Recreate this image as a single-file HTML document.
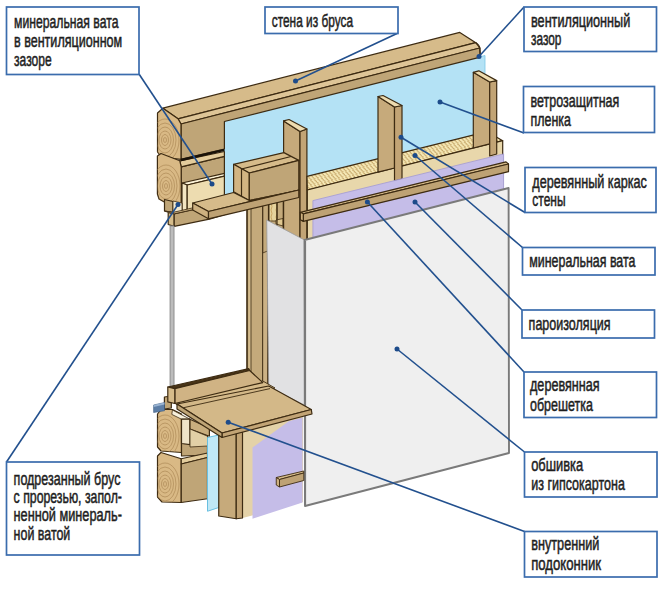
<!DOCTYPE html>
<html><head><meta charset="utf-8">
<style>
html,body{margin:0;padding:0;background:#fff;width:660px;height:605px;overflow:hidden}
svg{display:block}
.lb{fill:#fff;stroke:#3a6cad;stroke-width:1.7}
.tx{font-family:"Liberation Sans",sans-serif;font-size:17.5px;fill:#1e1e1e;stroke:#1e1e1e;stroke-width:0.5}
.ld{stroke:#22508e;stroke-width:1.6;fill:none}
.dt{fill:#1d4b8a}
.ol{stroke:#3a2810;stroke-width:1.2;stroke-linejoin:round}
</style></head>
<body>
<svg width="660" height="605" viewBox="0 0 660 605">
<!-- ILLUSTRATION -->
<g id="art">
<defs>
<pattern id="wool" patternUnits="userSpaceOnUse" width="3.6" height="5" patternTransform="rotate(-14) skewX(25)">
<rect width="3.6" height="5" fill="#f6e9b6"/>
<path d="M0.4 0 Q1.6 1.4 1.2 2.5 Q0.9 3.8 2.2 5" stroke="#c9ab6e" stroke-width="1.3" fill="none"/>
</pattern>
<pattern id="woolf" patternUnits="userSpaceOnUse" width="5" height="7">
<rect width="5" height="7" fill="#e6d39c"/>
<path d="M1 0 Q3 3.5 1 7" stroke="#caa664" stroke-width="1" fill="none"/>
</pattern>
<clipPath id="e1"><polygon points="157.5,113 162.9,108.2 178,118.8 181,124 181,159.3 161,157 157.5,152"/></clipPath>
<clipPath id="e2"><polygon points="157.4,156 161,153.5 179.8,160.8 181.2,166.8 181.2,205 166,203 159,199 157.4,194"/></clipPath>
<clipPath id="e3"><polygon points="157.5,414 161,409.5 172.4,409.5 181.5,414 181.5,452.5 161,451 157.5,447"/></clipPath>
<clipPath id="e4"><polygon points="157.5,456 161,452.5 181.25,458.75 181.25,502.5 162,502 157.5,497"/></clipPath>
</defs>
<g stroke="#3d2b12" stroke-width="1.2" stroke-linejoin="round">
<!-- blue film -->
<polygon points="224.4,121 485,55.5 485,150 224.4,205" fill="#b4e2f5" stroke="#7cc6e6" stroke-width="0.8"/>

<!-- top beam -->
<polygon points="162.9,108.2 459.8,32.4 475.8,42.7 178,118.8" fill="#d6bb8a"/>
<polygon points="178,118.8 475.8,42.7 479.8,48 181,124" fill="#dec597"/>
<polygon points="181,124 479.8,48 480.3,57.1 224.4,121.5 224.4,149 181,159.3" fill="#bfa577"/>
<path d="M475.8,42.7 Q479.5,45 479.8,48 L480.3,57.1" fill="none"/>
<polygon points="157.5,113 162.9,108.2 178,118.8 181,124 181,159.3 161,157 157.5,152" fill="#d9b985"/>
<g fill="none" stroke="#ad8a58" stroke-width="0.7" clip-path="url(#e1)"><ellipse cx="165" cy="140" rx="1.5" ry="2.5"/><ellipse cx="165" cy="140" rx="3.5" ry="5.5"/><ellipse cx="165" cy="140" rx="6" ry="9"/><ellipse cx="165" cy="140" rx="8.5" ry="13"/><ellipse cx="165" cy="140" rx="11" ry="17"/><ellipse cx="165" cy="140" rx="14" ry="21"/></g>

<!-- second log -->
<polygon points="181.2,166.8 224.4,156.4 224.4,212 181.2,212" fill="#bfa577"/>
<polygon points="179.8,160.8 224.4,151.5 224.4,156.4 181.2,166.8" fill="#e3cc9c"/>
<polygon points="157.4,156 161,153.5 179.8,160.8 181.2,166.8 181.2,205 166,203 159,199 157.4,194" fill="#d9b985"/>
<g fill="none" stroke="#ad8a58" stroke-width="0.7" clip-path="url(#e2)"><ellipse cx="166" cy="186" rx="1.5" ry="2.5"/><ellipse cx="166" cy="186" rx="3.5" ry="5.5"/><ellipse cx="166" cy="186" rx="6" ry="9"/><ellipse cx="166" cy="186" rx="8.5" ry="13"/><ellipse cx="166" cy="186" rx="11" ry="17"/><ellipse cx="166" cy="186" rx="14" ry="21"/></g>

<line x1="181" y1="160" x2="224.4" y2="149.8" stroke="#1a1208" stroke-width="2.4"/>
<!-- vent gap wool block -->
<polygon points="182,183 224.4,173.3 224.4,176.2 187.2,185" fill="#fcf3d8"/>
<polygon points="182,183 187.2,185 187.2,212 182,210" fill="#f3e6c2"/>
<polygon points="187.2,185 224.4,176.2 224.4,204 187.2,212" fill="#eddcb0"/>

<!-- small block + window head -->
<polygon points="164.5,199.5 173,201.5 173,212.4 164.5,211" fill="#bfa577"/>
<polygon points="173,201 182,203 182,212 173,212.4" fill="#f2e8cf" stroke-width="0.8"/>
<polygon points="168.2,212.4 174.2,213.8 174.2,226.4 168.2,224.5" fill="#d6bd8c"/>
<polygon points="174.2,213.8 209.4,206 240,199 240,210 209.4,219.1 174.2,226.4" fill="#bfa577"/>
<polygon points="164.5,211 173,212.4 209.4,204 209.4,206 174.2,213.8 168.2,212.4" fill="#d6bb8a" stroke-width="0.8"/>

<!-- behind gypsum side top: studs area -->
<polygon points="266.7,197 306.9,185 306.9,242 266.7,226" fill="#c4aa7b"/>
<polygon points="268.3,204 277,202 277,221 268.3,221" fill="url(#woolf)" stroke-width="0.8"/>
<polygon points="276,220 283,218.5 283,226 276,224" fill="#e0c890" stroke-width="0.8"/>
<line x1="283.3" y1="195" x2="283.3" y2="232"/>
<line x1="277" y1="202" x2="277" y2="228"/>

<!-- stud 1 -->
<polygon points="283.6,120.9 300,131.5 300,242 283.6,234" fill="#c6aa7b"/>
<polygon points="300,131.5 306.9,129 306.9,240 300,242" fill="#c2a475"/>
<polygon points="283.6,120.9 289,119.5 306.9,129 300,131.5" fill="#eedcb0"/>

<!-- jamb (right side of window) -->
<polygon points="247,199 268.7,193 268.7,390 247,392" fill="#c4aa7b" stroke-width="1.6"/>
<polygon points="248.5,199 251,198.5 251,372 248.5,372" fill="#d3bb8e" stroke="none"/>
<line x1="251" y1="199" x2="251" y2="372" stroke-width="0.8"/>
<line x1="262.7" y1="196" x2="262.7" y2="383"/>
<polygon points="262.7,253 267.5,251 267.5,385 262.7,383" fill="#ccb285" stroke-width="0.8"/>

<!-- header block -->
<polygon points="233.6,164.3 283.9,152.6 298.8,160.4 249.3,173" fill="#d6bb8a"/>
<line x1="241.5" y1="169" x2="291" y2="156.5"/>
<polygon points="233.6,164.3 249.3,173 249.3,200.5 233.6,191.8" fill="#d2b482"/>
<line x1="241.5" y1="169" x2="241.5" y2="196.5"/>
<polygon points="249.3,173 298.8,160.4 298.8,190.3 249.3,200.5" fill="#bfa577"/>

<!-- plank -->
<polygon points="192.7,203 233.6,192.5 249.3,200.5 298.8,190.3 298.8,190 208.5,211.5" fill="#d6bb8a"/>
<polygon points="192.7,203 208.5,211.5 208.5,218.8 192.7,210" fill="#cdb07f"/>
<polygon points="208.5,211.5 298.8,190 298.8,197.5 208.5,218.8" fill="#bea274"/>

<!-- main wool -->
<polygon points="307,176.4 487,131.6 502.7,140.7 307.3,190" fill="url(#wool)"/>
<polygon points="307.3,190 502.7,140.7 502.7,190 307.3,245" fill="#e8d7ab"/>

<!-- stud 2 -->
<polygon points="378,96.5 394.5,107 394.5,168 378,172.2" fill="#c6aa7b"/>
<polygon points="394.5,107 402,105.5 402,179 394.5,181" fill="#c2a475"/>
<polygon points="378,96.5 383,95.5 402,105.5 394.5,107" fill="#eedcb0"/>

<!-- stud 3 -->
<polygon points="473.3,72.3 489.7,82 489.7,143.8 473.3,148" fill="#c6aa7b"/>
<polygon points="489.7,82 496.7,80.6 496.7,154 489.7,156" fill="#c2a475"/>
<polygon points="473.3,72.3 478.8,70.8 496.7,80.6 489.7,82" fill="#eedcb0"/>

<!-- purple -->
<polygon points="312.9,200.6 503.6,153.9 503.6,200 312.9,245" fill="#c5bde8" stroke="#a39ad2" stroke-width="0.8"/>

<!-- batten -->
<polygon points="300.3,212.3 506,161.9 508.5,164 303.3,213.8" fill="#d6bb8a"/>
<polygon points="303.3,213.8 508.5,164 508.5,171.7 303.3,221.4" fill="#bea274"/>
<polygon points="300.3,212.3 303.3,213.8 303.3,221.4 300.3,219.8" fill="#cdb07f"/>

<!-- gypsum -->
<polygon points="266.7,220 304.5,240 304.5,405 268.7,387" fill="#e1e1e3" stroke="#9a9a9a" stroke-width="0.8"/>
<polygon points="304.5,240 508.6,188 509,453 305,506" fill="#efefef" stroke="#7a7a7a" stroke-width="1.9"/>
<line x1="305.2" y1="241" x2="305.2" y2="505" stroke="#7a7a7a" stroke-width="1.8"/>

<!-- window glass -->
<rect x="170.1" y="226" width="3.9" height="162" fill="#bcbcbc" stroke="#8e8e8e" stroke-width="1"/>

<!-- sill back strip -->
<polygon points="164.4,397 171.3,396 171.3,408 164.4,409" fill="#bfa577"/>
<polygon points="171,401 262.8,381 275,388 182.6,408" fill="#d6bb8a" stroke-width="0.9"/>

<!-- window bottom rail -->
<polygon points="167.8,387 248.8,368.7 249.7,370.5 174.8,388.7" fill="#4a3518"/>
<polygon points="174.8,388.7 249.7,370.5 262.8,382.6 174.8,403.5" fill="#d0b384"/>
<polygon points="167.8,387 174.8,388.7 174.8,403.5 167.8,401.8" fill="#d6bb8a"/>

<!-- lower logs -->
<polygon points="157.5,414 161,409.5 172.4,409.5 181.5,414 181.5,452.5 161,451 157.5,447" fill="#d9b985"/>
<polygon points="181.5,419 207.5,430 207.5,455 181.5,456" fill="#bfa577"/>
<polygon points="172.4,410 190,419.2 181.5,419.2 171.8,414.4" fill="#f7f0dc" stroke-width="0.8"/>
<polygon points="181.5,419.2 190,419.2 190,444.7 181.5,443.5" fill="#efe4c8"/>
<polygon points="190,419.2 209.4,428 209.4,436.2 190,429" fill="#c9ae7e"/>
<polygon points="190,429 207.5,436.2 207.5,446 190,447" fill="#e2d0a6" stroke-width="0.8"/>
<polygon points="157.5,456 161,452.5 181.25,458.75 181.25,502.5 162,502 157.5,497" fill="#d9b985"/>
<polygon points="181.25,458.75 207.5,453 207.5,457.5 181.25,464" fill="#e3cc9c"/>
<polygon points="181.25,464 207.5,457.5 207.5,498.75 181.25,502.5" fill="#bfa577"/>
<g fill="none" stroke="#ad8a58" stroke-width="0.7" clip-path="url(#e3)"><ellipse cx="165" cy="436" rx="1.5" ry="2.5"/><ellipse cx="165" cy="436" rx="3.5" ry="5.5"/><ellipse cx="165" cy="436" rx="6" ry="9"/><ellipse cx="165" cy="436" rx="8.5" ry="13"/><ellipse cx="165" cy="436" rx="11" ry="17"/><ellipse cx="165" cy="436" rx="14" ry="21"/></g><g fill="none" stroke="#ad8a58" stroke-width="0.7" clip-path="url(#e4)"><ellipse cx="165" cy="484" rx="1.5" ry="2.5"/><ellipse cx="165" cy="484" rx="3.5" ry="5.5"/><ellipse cx="165" cy="484" rx="6" ry="9"/><ellipse cx="165" cy="484" rx="8.5" ry="13"/><ellipse cx="165" cy="484" rx="11" ry="17"/><ellipse cx="165" cy="484" rx="14" ry="21"/></g>
<polygon points="153.6,405 164.5,402.5 164.5,410.8 153.6,412.5" fill="#5d7ea6" stroke="#3e5c82" stroke-width="0.6"/><polygon points="153.6,405 164.5,402.5 164.5,404.5 153.6,407" fill="#9ab4d2" stroke="none"/>

<!-- blue film piece -->
<polygon points="207.5,437.5 218.75,435 218.75,507.5 207.5,511.25" fill="#c0e8f6" stroke="#69bfe0" stroke-width="1"/>

<!-- stud below sill -->
<polygon points="242.5,430 303,416 303,502 242.5,518" fill="#e4d2a8" stroke="none"/>
<polygon points="218.75,435 236.25,431 236.25,518.75 218.75,516" fill="#c6aa7b"/>
<polygon points="236.25,431 242.5,430 242.5,518 236.25,518.75" fill="#c2a475"/>
<polygon points="252.5,447.5 288.75,421.25 302.5,417.5 302.5,502.5 252.5,518.75" fill="#c5bde8" stroke="none"/>
<polygon points="276.25,477.5 303.75,471 303.75,473 279.5,479.5" fill="#d6bb8a" stroke-width="0.9"/>
<polygon points="276.25,477.5 279.5,479.5 279.5,487 276.25,485" fill="#cdb07f" stroke-width="0.9"/>
<polygon points="279.5,479.5 303.75,473 303.75,480.5 279.5,487" fill="#bea274" stroke-width="0.9"/>

<!-- sill -->
<polygon points="177,404 268.7,386 311.3,409.5 222,433" fill="#d3b888"/>
<polygon points="222,433 311.3,409.5 312,414 222,437.5" fill="#c2a475"/>
<polygon points="177,404 222,433 222,437.5 177,409" fill="#bfa577"/>
<line x1="183.6" y1="407.7" x2="270" y2="388.6" stroke-width="0.9"/>
</g>
</g>

<!-- LEADER LINES -->
<g id="leaders">
<line class="ld" x1="139" y1="74" x2="212" y2="184"/><circle class="dt" cx="212" cy="184" r="2.5"/>
<line class="ld" x1="397" y1="33.5" x2="295.5" y2="81"/><circle class="dt" cx="295.5" cy="81" r="2.5"/>
<line class="ld" x1="524" y1="7" x2="479" y2="56.5"/><circle class="dt" cx="479" cy="56.5" r="2.5"/>
<line class="ld" x1="524" y1="133" x2="440" y2="102"/><circle class="dt" cx="440" cy="102" r="2.5"/>
<line class="ld" x1="525" y1="212.5" x2="401" y2="137.3"/><circle class="dt" cx="401" cy="137.3" r="2.5"/>
<line class="ld" x1="522.5" y1="247.5" x2="415" y2="155.5"/><circle class="dt" cx="415" cy="155.5" r="2.5"/>
<line class="ld" x1="522" y1="310" x2="415" y2="202"/><circle class="dt" cx="415" cy="202" r="2.5"/>
<line class="ld" x1="524" y1="372" x2="367.4" y2="202"/><circle class="dt" cx="367.4" cy="202" r="2.5"/>
<line class="ld" x1="524.5" y1="452" x2="397" y2="349"/><circle class="dt" cx="397" cy="349" r="2.5"/>
<line class="ld" x1="524.5" y1="531.5" x2="228.2" y2="422.2"/><circle class="dt" cx="228.2" cy="422.2" r="2.5"/>
<line class="ld" x1="6.5" y1="462" x2="178" y2="204.5"/><circle class="dt" cx="178" cy="204.5" r="2.5"/>
</g>

<!-- LABELS -->
<g id="labels">
<rect class="lb" x="6.5" y="7" width="132.5" height="67.5"/>
<text class="tx" x="14" y="27.7" textLength="104.5" lengthAdjust="spacingAndGlyphs">минеральная вата</text>
<text class="tx" x="14" y="47" textLength="108.2" lengthAdjust="spacingAndGlyphs">в вентиляционном</text>
<text class="tx" x="14" y="65.9" textLength="37.7" lengthAdjust="spacingAndGlyphs">зазоре</text>

<rect class="lb" x="265" y="7" width="133" height="26.5"/>
<text class="tx" x="271.8" y="26.9" textLength="81.2" lengthAdjust="spacingAndGlyphs">стена из бруса</text>

<rect class="lb" x="524" y="7" width="132.5" height="44.5"/>
<text class="tx" x="531" y="26.6" textLength="99.3" lengthAdjust="spacingAndGlyphs">вентиляционный</text>
<text class="tx" x="531" y="44.6" textLength="30.4" lengthAdjust="spacingAndGlyphs">зазор</text>

<rect class="lb" x="523.5" y="86.5" width="131" height="46"/>
<text class="tx" x="530.6" y="106.5" textLength="88.7" lengthAdjust="spacingAndGlyphs">ветрозащитная</text>
<text class="tx" x="530.6" y="125.6" textLength="40.4" lengthAdjust="spacingAndGlyphs">пленка</text>

<rect class="lb" x="525" y="167.5" width="131" height="45"/>
<text class="tx" x="532.3" y="187.6" textLength="114.6" lengthAdjust="spacingAndGlyphs">деревянный каркас</text>
<text class="tx" x="532.3" y="205.6" textLength="33.3" lengthAdjust="spacingAndGlyphs">стены</text>

<rect class="lb" x="522.5" y="247.5" width="132.5" height="27.5"/>
<text class="tx" x="529.3" y="266.8" textLength="106.1" lengthAdjust="spacingAndGlyphs">минеральная вата</text>

<rect class="lb" x="522" y="310" width="132.5" height="28"/>
<text class="tx" x="528.6" y="329.6" textLength="82" lengthAdjust="spacingAndGlyphs">пароизоляция</text>

<rect class="lb" x="524" y="372" width="132.5" height="45.5"/>
<text class="tx" x="530" y="391.4" textLength="69.6" lengthAdjust="spacingAndGlyphs">деревянная</text>
<text class="tx" x="530" y="410.7" textLength="63" lengthAdjust="spacingAndGlyphs">обрешетка</text>

<rect class="lb" x="524.5" y="452" width="132.5" height="45"/>
<text class="tx" x="531.2" y="470.6" textLength="52" lengthAdjust="spacingAndGlyphs">обшивка</text>
<text class="tx" x="531.2" y="490.1" textLength="93.7" lengthAdjust="spacingAndGlyphs">из гипсокартона</text>

<rect class="lb" x="524.5" y="531.5" width="132.5" height="45.5"/>
<text class="tx" x="531.2" y="550.2" textLength="68.2" lengthAdjust="spacingAndGlyphs">внутренний</text>
<text class="tx" x="531.2" y="569.9" textLength="69.8" lengthAdjust="spacingAndGlyphs">подоконник</text>

<rect class="lb" x="6.5" y="462" width="133" height="93"/>
<text class="tx" x="13.6" y="484.7" textLength="106.8" lengthAdjust="spacingAndGlyphs">подрезанный брус</text>
<text class="tx" x="13.6" y="503.3" textLength="108.3" lengthAdjust="spacingAndGlyphs">с прорезью, запол-</text>
<text class="tx" x="13.6" y="520.9" textLength="108.3" lengthAdjust="spacingAndGlyphs">ненной минераль-</text>
<text class="tx" x="13.6" y="539.6" textLength="56.7" lengthAdjust="spacingAndGlyphs">ной ватой</text>
</g>
</svg>
</body></html>
